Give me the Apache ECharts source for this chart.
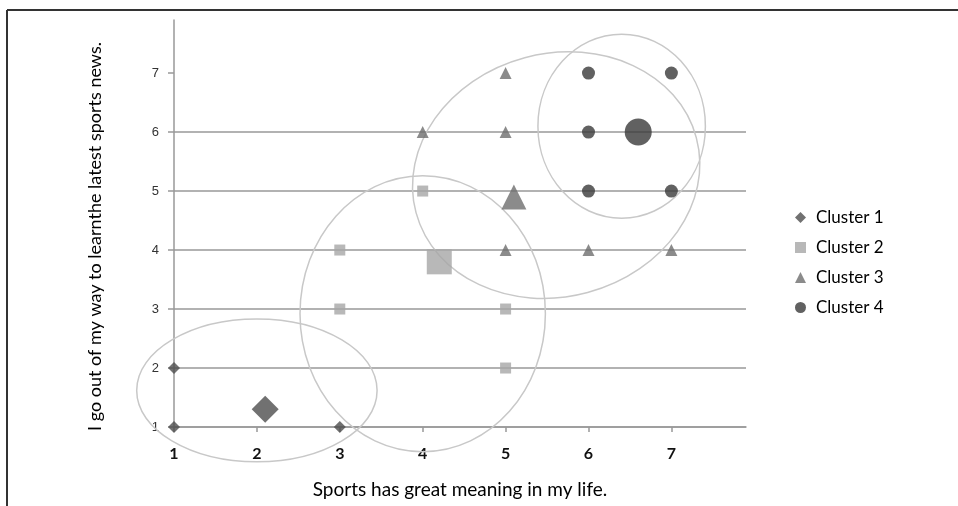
<!DOCTYPE html>
<html>
<head>
<meta charset="utf-8">
<script src="https://cdn.jsdelivr.net/npm/echarts@6/dist/echarts.min.js"></script>
<style>
  html, body { margin: 0; padding: 0; background: #fff; }
  #chart { width: 958px; height: 506px; }
</style>
</head>
<body>
<div id="chart"></div>
<script>
const clusterNames = ['Cluster 1', 'Cluster 2', 'Cluster 3', 'Cluster 4'];
const cluster1 = [[1, 1], [1, 2], [3, 1]];
const cluster2 = [[3, 3], [3, 4], [4, 5], [5, 3], [5, 2]];
const cluster3 = [[4, 6], [5, 6], [5, 7], [5, 4], [6, 4], [7, 4]];
const cluster4 = [[6, 7], [7, 7], [6, 6], [6, 5], [7, 5]];
const centroids = [[2.1, 1.3], [4.2, 3.8], [5.1, 4.9], [6.6, 6.0]];
// ellipse outlines round each cluster: cx, cy, rx, ry (axis units), tilt (deg)
const ellipses = [
    [2.0, 1.62, 1.45, 1.21, 0],
    [4.0, 2.92, 1.48, 2.34, 0],
    [5.61, 5.27, 1.75, 2.06, 15],
    [6.4, 6.1, 1.01, 1.56, 0]
];
const tickValues = [1, 2, 3, 4, 5, 6, 7];

document.addEventListener('DOMContentLoaded', function () {
    const chart = echarts.init(document.getElementById('chart'));
    const gridColor = '#999';

    function buildData(points, center, bigSize) {
        return points.map(p => ({ value: p })).concat([{ value: center, symbolSize: bigSize }]);
    }

    const option = {
        animation: false,
        graphic: [
            { type: 'line', shape: { x1: 7, y1: 10, x2: 958, y2: 10 }, style: { stroke: '#333', lineWidth: 2 } },
            { type: 'line', shape: { x1: 7, y1: 10, x2: 7, y2: 506 }, style: { stroke: '#333', lineWidth: 2 } }
        ],
        grid: { left: 174, right: 212, top: 20, bottom: 79 },
        legend: {
            data: clusterNames,
            orient: 'vertical',
            left: 795,
            top: 209,
            padding: 0,
            itemGap: 13,
            itemWidth: 11,
            itemHeight: 11,
            textStyle: { fontFamily: 'Lato', fontSize: 17, color: '#000', padding: [0, 0, 0, 5] }
        },
        xAxis: {
            type: 'value',
            min: 1,
            max: 7.9,
            interval: 1,
            name: 'Sports has great meaning in my life.',
            nameLocation: 'middle',
            nameGap: 53,
            nameTextStyle: { fontFamily: 'Lato', fontSize: 19, color: '#000' },
            axisLine: { show: true, lineStyle: { color: gridColor, width: 1.5 } },
            axisTick: { show: true, length: 5, customValues: tickValues, lineStyle: { color: gridColor, width: 1.5 } },
            axisLabel: { customValues: tickValues, margin: 19, fontFamily: 'Lato', fontSize: 16, fontWeight: 'bold', color: '#111' },
            splitLine: { show: false }
        },
        yAxis: {
            type: 'value',
            min: 1,
            max: 7.9,
            interval: 1,
            name: 'I go out of my way to learnthe latest sports news.',
            nameLocation: 'middle',
            nameGap: 70,
            nameTextStyle: { fontFamily: 'Lato', fontSize: 18, color: '#000', padding: [0, 26, 0, 0] },
            axisLine: { show: true, lineStyle: { color: gridColor, width: 1.5 } },
            axisTick: { show: true, length: 6, customValues: tickValues, lineStyle: { color: gridColor, width: 1.5 } },
            axisLabel: { customValues: tickValues, margin: 15, fontFamily: 'Liberation Sans', fontSize: 13, color: '#333' },
            splitLine: { show: true, showMaxLine: false, lineStyle: { color: gridColor, width: 1.5 } }
        },
        series: [
            {
                type: 'custom',
                silent: true,
                z: 1,
                data: ellipses,
                renderItem: function (params, api) {
                    const c = api.coord([api.value(0), api.value(1)]);
                    const s = api.size([api.value(2), api.value(3)]);
                    return {
                        type: 'ellipse',
                        x: c[0],
                        y: c[1],
                        rotation: api.value(4) * Math.PI / 180,
                        shape: { cx: 0, cy: 0, rx: s[0], ry: s[1] },
                        style: { fill: null, stroke: '#c8c8c8', lineWidth: 1.5 }
                    };
                }
            },
            {
                name: clusterNames[0], type: 'scatter', z: 3, symbol: 'diamond', symbolSize: 12,
                itemStyle: { color: '#4d4d4d' },
                data: buildData(cluster1, centroids[0], 27)
            },
            {
                name: clusterNames[1], type: 'scatter', z: 3, symbol: 'rect', symbolSize: 11,
                itemStyle: { color: '#a6a6a6' },
                data: buildData(cluster2, centroids[1], 25)
            },
            {
                name: clusterNames[2], type: 'scatter', z: 3, symbol: 'triangle', symbolSize: 12,
                itemStyle: { color: '#6e6e6e' },
                data: buildData(cluster3, centroids[2], 25)
            },
            {
                name: clusterNames[3], type: 'scatter', z: 3, symbol: 'circle', symbolSize: 13,
                itemStyle: { color: '#3a3a3a' },
                data: buildData(cluster4, centroids[3], 27)
            }
        ]
    };

    chart.setOption(option);

    window.addEventListener('resize', function () {
        chart.resize();
    });
});
</script>
</body>
</html>
